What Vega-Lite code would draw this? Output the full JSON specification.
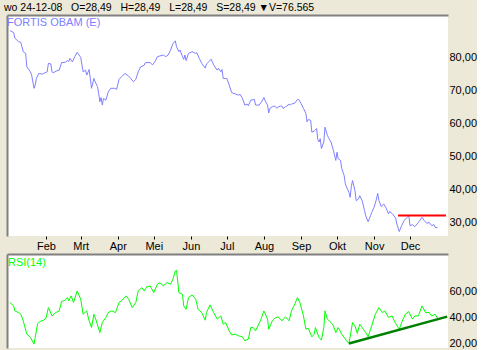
{
  "$schema": "https://vega.github.io/schema/vega-lite/v6.json",
  "background": "#ECE9D8",
  "padding": {"left": 4, "top": 2, "right": 0, "bottom": 2},
  "title": {"text": "wo 24-12-08\u00a0\u00a0 O=28,49\u00a0\u00a0 H=28,49\u00a0\u00a0 L=28,49\u00a0\u00a0 S=28,49 ▼V=76.565", "anchor": "start", "fontSize": 10.5, "fontWeight": "normal", "font": "Liberation Sans", "color": "black", "offset": 2, "dx": -3},
  "datasets": {
    "price": [
      {"date":"2008-01-02","close":88.3},{"date":"2008-01-05","close":87.7},{"date":"2008-01-06","close":86.0},{"date":"2008-01-09","close":85.0},{"date":"2008-01-11","close":84.7},{"date":"2008-01-13","close":81.9},{"date":"2008-01-15","close":81.4},{"date":"2008-01-16","close":77.3},{"date":"2008-01-19","close":75.8},{"date":"2008-01-20","close":74.8},{"date":"2008-01-22","close":70.8},{"date":"2008-01-23","close":71.8},{"date":"2008-01-24","close":73.8},{"date":"2008-01-26","close":75.3},{"date":"2008-01-29","close":75.1},{"date":"2008-01-31","close":75.5},{"date":"2008-02-02","close":75.8},{"date":"2008-02-03","close":78.4},{"date":"2008-02-05","close":78.2},{"date":"2008-02-06","close":75.8},{"date":"2008-02-07","close":75.5},{"date":"2008-02-10","close":76.1},{"date":"2008-02-12","close":76.3},{"date":"2008-02-14","close":78.6},{"date":"2008-02-17","close":78.7},{"date":"2008-02-19","close":79.2},{"date":"2008-02-20","close":78.9},{"date":"2008-02-21","close":79.9},{"date":"2008-02-23","close":78.8},{"date":"2008-02-25","close":80.4},{"date":"2008-02-27","close":81.7},{"date":"2008-03-01","close":80.2},{"date":"2008-03-02","close":77.9},{"date":"2008-03-03","close":75.8},{"date":"2008-03-05","close":76.3},{"date":"2008-03-06","close":74.8},{"date":"2008-03-08","close":76.5},{"date":"2008-03-09","close":73.8},{"date":"2008-03-10","close":70.8},{"date":"2008-03-12","close":73.8},{"date":"2008-03-13","close":72.8},{"date":"2008-03-15","close":71.3},{"date":"2008-03-16","close":69.2},{"date":"2008-03-17","close":66.7},{"date":"2008-03-18","close":68.0},{"date":"2008-03-19","close":65.7},{"date":"2008-03-20","close":67.7},{"date":"2008-03-22","close":67.2},{"date":"2008-03-24","close":69.7},{"date":"2008-03-26","close":70.8},{"date":"2008-03-29","close":70.8},{"date":"2008-03-31","close":70.5},{"date":"2008-04-02","close":73.5},{"date":"2008-04-04","close":74.3},{"date":"2008-04-07","close":75.3},{"date":"2008-04-10","close":74.5},{"date":"2008-04-11","close":74.1},{"date":"2008-04-14","close":72.8},{"date":"2008-04-16","close":73.5},{"date":"2008-04-18","close":75.8},{"date":"2008-04-20","close":77.3},{"date":"2008-04-23","close":77.8},{"date":"2008-04-24","close":78.6},{"date":"2008-04-28","close":78.6},{"date":"2008-04-30","close":77.9},{"date":"2008-05-02","close":78.9},{"date":"2008-05-04","close":80.4},{"date":"2008-05-06","close":80.6},{"date":"2008-05-09","close":80.9},{"date":"2008-05-11","close":80.4},{"date":"2008-05-13","close":80.9},{"date":"2008-05-15","close":82.4},{"date":"2008-05-17","close":84.3},{"date":"2008-05-19","close":85.2},{"date":"2008-05-20","close":83.4},{"date":"2008-05-22","close":81.9},{"date":"2008-05-23","close":82.4},{"date":"2008-05-25","close":80.4},{"date":"2008-05-26","close":79.6},{"date":"2008-05-27","close":80.9},{"date":"2008-05-28","close":79.2},{"date":"2008-05-30","close":81.4},{"date":"2008-06-02","close":81.9},{"date":"2008-06-05","close":81.4},{"date":"2008-06-06","close":81.6},{"date":"2008-06-08","close":79.9},{"date":"2008-06-10","close":78.4},{"date":"2008-06-13","close":76.9},{"date":"2008-06-14","close":78.2},{"date":"2008-06-16","close":78.9},{"date":"2008-06-18","close":79.6},{"date":"2008-06-20","close":77.9},{"date":"2008-06-23","close":76.3},{"date":"2008-06-24","close":76.9},{"date":"2008-06-26","close":75.8},{"date":"2008-06-27","close":76.5},{"date":"2008-06-28","close":73.8},{"date":"2008-07-01","close":73.8},{"date":"2008-07-03","close":71.8},{"date":"2008-07-05","close":69.5},{"date":"2008-07-08","close":69.1},{"date":"2008-07-11","close":68.7},{"date":"2008-07-12","close":69.0},{"date":"2008-07-14","close":67.8},{"date":"2008-07-16","close":65.7},{"date":"2008-07-18","close":66.0},{"date":"2008-07-19","close":65.5},{"date":"2008-07-21","close":67.2},{"date":"2008-07-24","close":67.4},{"date":"2008-07-25","close":65.7},{"date":"2008-07-28","close":65.7},{"date":"2008-07-30","close":66.7},{"date":"2008-08-01","close":68.0},{"date":"2008-08-02","close":67.0},{"date":"2008-08-04","close":65.7},{"date":"2008-08-05","close":63.3},{"date":"2008-08-06","close":64.7},{"date":"2008-08-08","close":65.2},{"date":"2008-08-10","close":65.4},{"date":"2008-08-12","close":64.7},{"date":"2008-08-13","close":65.2},{"date":"2008-08-15","close":65.4},{"date":"2008-08-16","close":65.4},{"date":"2008-08-17","close":64.7},{"date":"2008-08-19","close":65.2},{"date":"2008-08-20","close":65.4},{"date":"2008-08-22","close":66.0},{"date":"2008-08-23","close":65.7},{"date":"2008-08-24","close":66.0},{"date":"2008-08-26","close":66.2},{"date":"2008-08-27","close":66.4},{"date":"2008-08-29","close":67.4},{"date":"2008-08-30","close":67.4},{"date":"2008-09-01","close":66.2},{"date":"2008-09-03","close":64.7},{"date":"2008-09-05","close":63.2},{"date":"2008-09-06","close":60.6},{"date":"2008-09-07","close":61.3},{"date":"2008-09-09","close":61.1},{"date":"2008-09-10","close":57.5},{"date":"2008-09-12","close":57.8},{"date":"2008-09-14","close":58.6},{"date":"2008-09-15","close":55.2},{"date":"2008-09-16","close":54.5},{"date":"2008-09-17","close":55.5},{"date":"2008-09-18","close":52.5},{"date":"2008-09-20","close":54.5},{"date":"2008-09-21","close":59.0},{"date":"2008-09-23","close":56.5},{"date":"2008-09-24","close":55.8},{"date":"2008-09-26","close":54.5},{"date":"2008-09-28","close":52.0},{"date":"2008-09-30","close":48.9},{"date":"2008-10-01","close":51.4},{"date":"2008-10-02","close":49.4},{"date":"2008-10-04","close":48.9},{"date":"2008-10-05","close":46.4},{"date":"2008-10-07","close":44.3},{"date":"2008-10-08","close":41.8},{"date":"2008-10-09","close":40.8},{"date":"2008-10-11","close":39.2},{"date":"2008-10-12","close":37.7},{"date":"2008-10-13","close":41.0},{"date":"2008-10-14","close":42.8},{"date":"2008-10-16","close":39.8},{"date":"2008-10-17","close":36.7},{"date":"2008-10-19","close":37.2},{"date":"2008-10-20","close":38.2},{"date":"2008-10-22","close":36.7},{"date":"2008-10-24","close":33.7},{"date":"2008-10-25","close":32.1},{"date":"2008-10-27","close":30.3},{"date":"2008-10-29","close":32.1},{"date":"2008-10-30","close":33.1},{"date":"2008-11-01","close":34.7},{"date":"2008-11-03","close":37.2},{"date":"2008-11-04","close":38.9},{"date":"2008-11-05","close":36.7},{"date":"2008-11-07","close":34.9},{"date":"2008-11-09","close":35.7},{"date":"2008-11-11","close":34.5},{"date":"2008-11-13","close":32.7},{"date":"2008-11-14","close":33.4},{"date":"2008-11-16","close":32.8},{"date":"2008-11-19","close":31.4},{"date":"2008-11-20","close":29.6},{"date":"2008-11-22","close":27.3},{"date":"2008-11-24","close":29.1},{"date":"2008-11-26","close":30.6},{"date":"2008-11-28","close":31.4},{"date":"2008-11-30","close":32.1},{"date":"2008-12-01","close":29.1},{"date":"2008-12-03","close":29.4},{"date":"2008-12-05","close":28.8},{"date":"2008-12-08","close":30.1},{"date":"2008-12-11","close":31.6},{"date":"2008-12-13","close":30.6},{"date":"2008-12-15","close":29.8},{"date":"2008-12-17","close":30.1},{"date":"2008-12-19","close":29.1},{"date":"2008-12-21","close":29.4},{"date":"2008-12-22","close":28.6},{"date":"2008-12-24","close":28.49}
    ],
    "rsi": [
      {"date":"2008-01-02","rsi":51.8},{"date":"2008-01-05","rsi":49.2},{"date":"2008-01-06","rsi":45.3},{"date":"2008-01-09","rsi":44.0},{"date":"2008-01-11","rsi":42.7},{"date":"2008-01-13","rsi":37.6},{"date":"2008-01-16","rsi":27.2},{"date":"2008-01-19","rsi":24.7},{"date":"2008-01-22","rsi":19.5},{"date":"2008-01-23","rsi":24.7},{"date":"2008-01-25","rsi":35.5},{"date":"2008-01-27","rsi":37.1},{"date":"2008-01-30","rsi":38.1},{"date":"2008-02-01","rsi":39.6},{"date":"2008-02-03","rsi":47.9},{"date":"2008-02-06","rsi":41.4},{"date":"2008-02-09","rsi":44.0},{"date":"2008-02-12","rsi":45.3},{"date":"2008-02-14","rsi":52.6},{"date":"2008-02-17","rsi":53.6},{"date":"2008-02-19","rsi":55.7},{"date":"2008-02-20","rsi":53.1},{"date":"2008-02-22","rsi":57.0},{"date":"2008-02-24","rsi":51.8},{"date":"2008-02-27","rsi":60.8},{"date":"2008-03-01","rsi":54.4},{"date":"2008-03-03","rsi":42.7},{"date":"2008-03-06","rsi":45.3},{"date":"2008-03-08","rsi":37.6},{"date":"2008-03-10","rsi":32.4},{"date":"2008-03-12","rsi":42.7},{"date":"2008-03-14","rsi":37.6},{"date":"2008-03-17","rsi":28.5},{"date":"2008-03-19","rsi":36.3},{"date":"2008-03-22","rsi":40.2},{"date":"2008-03-24","rsi":44.0},{"date":"2008-03-27","rsi":45.3},{"date":"2008-03-30","rsi":44.0},{"date":"2008-04-02","rsi":51.8},{"date":"2008-04-04","rsi":53.1},{"date":"2008-04-08","rsi":57.0},{"date":"2008-04-10","rsi":54.4},{"date":"2008-04-13","rsi":47.9},{"date":"2008-04-16","rsi":51.8},{"date":"2008-04-18","rsi":60.8},{"date":"2008-04-21","rsi":63.4},{"date":"2008-04-23","rsi":60.8},{"date":"2008-04-25","rsi":63.9},{"date":"2008-04-28","rsi":64.7},{"date":"2008-05-01","rsi":59.5},{"date":"2008-05-04","rsi":66.0},{"date":"2008-05-06","rsi":67.3},{"date":"2008-05-09","rsi":64.7},{"date":"2008-05-12","rsi":67.3},{"date":"2008-05-15","rsi":66.0},{"date":"2008-05-17","rsi":69.9},{"date":"2008-05-19","rsi":76.3},{"date":"2008-05-20","rsi":76.8},{"date":"2008-05-22","rsi":59.5},{"date":"2008-05-25","rsi":58.2},{"date":"2008-05-26","rsi":49.2},{"date":"2008-05-28","rsi":46.6},{"date":"2008-05-30","rsi":55.7},{"date":"2008-06-02","rsi":57.7},{"date":"2008-06-05","rsi":54.4},{"date":"2008-06-07","rsi":46.6},{"date":"2008-06-10","rsi":44.0},{"date":"2008-06-13","rsi":38.1},{"date":"2008-06-14","rsi":44.0},{"date":"2008-06-17","rsi":50.0},{"date":"2008-06-20","rsi":44.0},{"date":"2008-06-23","rsi":38.9},{"date":"2008-06-26","rsi":41.4},{"date":"2008-06-28","rsi":35.0},{"date":"2008-06-30","rsi":36.3},{"date":"2008-07-03","rsi":29.8},{"date":"2008-07-05","rsi":26.7},{"date":"2008-07-08","rsi":27.2},{"date":"2008-07-11","rsi":25.9},{"date":"2008-07-14","rsi":25.2},{"date":"2008-07-16","rsi":22.1},{"date":"2008-07-19","rsi":23.4},{"date":"2008-07-21","rsi":32.4},{"date":"2008-07-23","rsi":32.4},{"date":"2008-07-25","rsi":29.8},{"date":"2008-07-29","rsi":37.6},{"date":"2008-08-01","rsi":45.3},{"date":"2008-08-04","rsi":38.9},{"date":"2008-08-05","rsi":31.1},{"date":"2008-08-08","rsi":37.6},{"date":"2008-08-10","rsi":39.6},{"date":"2008-08-13","rsi":40.7},{"date":"2008-08-16","rsi":37.6},{"date":"2008-08-19","rsi":40.7},{"date":"2008-08-22","rsi":37.6},{"date":"2008-08-24","rsi":45.3},{"date":"2008-08-27","rsi":51.0},{"date":"2008-08-29","rsi":55.7},{"date":"2008-08-31","rsi":51.8},{"date":"2008-09-03","rsi":41.4},{"date":"2008-09-05","rsi":31.1},{"date":"2008-09-07","rsi":31.9},{"date":"2008-09-10","rsi":25.2},{"date":"2008-09-12","rsi":27.2},{"date":"2008-09-13","rsi":32.4},{"date":"2008-09-16","rsi":24.7},{"date":"2008-09-18","rsi":22.6},{"date":"2008-09-20","rsi":32.4},{"date":"2008-09-21","rsi":45.3},{"date":"2008-09-23","rsi":38.9},{"date":"2008-09-26","rsi":36.3},{"date":"2008-09-28","rsi":33.7},{"date":"2008-09-30","rsi":28.5},{"date":"2008-10-02","rsi":32.4},{"date":"2008-10-05","rsi":27.2},{"date":"2008-10-09","rsi":22.1},{"date":"2008-10-11","rsi":20.0},{"date":"2008-10-14","rsi":36.3},{"date":"2008-10-16","rsi":33.7},{"date":"2008-10-18","rsi":27.8},{"date":"2008-10-20","rsi":35.0},{"date":"2008-10-22","rsi":32.4},{"date":"2008-10-25","rsi":28.5},{"date":"2008-10-27","rsi":25.2},{"date":"2008-10-30","rsi":33.7},{"date":"2008-11-02","rsi":42.7},{"date":"2008-11-05","rsi":47.9},{"date":"2008-11-08","rsi":44.0},{"date":"2008-11-10","rsi":45.3},{"date":"2008-11-13","rsi":40.2},{"date":"2008-11-16","rsi":41.4},{"date":"2008-11-19","rsi":35.5},{"date":"2008-11-22","rsi":31.1},{"date":"2008-11-24","rsi":36.3},{"date":"2008-11-27","rsi":42.7},{"date":"2008-11-30","rsi":44.8},{"date":"2008-12-03","rsi":38.9},{"date":"2008-12-05","rsi":41.4},{"date":"2008-12-08","rsi":41.4},{"date":"2008-12-11","rsi":49.2},{"date":"2008-12-14","rsi":44.0},{"date":"2008-12-17","rsi":44.0},{"date":"2008-12-19","rsi":41.4},{"date":"2008-12-22","rsi":42.7},{"date":"2008-12-24","rsi":39.6}
    ],
    "resistance": [{"start":"2008-11-21","end":"2008-12-31","level":32.2}],
    "trend": [{"start":"2008-10-11","end":"2009-01-01","from":20.0,"to":40.9}]
  },
  "resolve": {"scale": {"color": "independent"}, "legend": {"color": "independent"}},
  "vconcat": [
    {
      "width": 441,
      "height": 221,
      "resolve": {"axis": {"x": "independent", "y": "independent"}},
      "layer": [
        {
          "data": {"name": "price"},
          "mark": {"type": "line", "strokeWidth": 1},
          "encoding": {
            "x": {"field": "date", "type": "temporal",
              "scale": {"type": "utc", "domain": [{"year": 2007, "month": 12, "date": 30, "hours": 10, "minutes": 20, "utc": true}, {"year": 2009, "month": 1, "date": 1, "hours": 17, "utc": true}]},
              "axis": {"orient": "bottom", "title": null, "domain": false, "grid": false, "ticks": true, "tickSize": 3, "tickColor": "black", "labelPadding": 1, "labelFlush": false, "labelOverlap": false,
                "values": [{"year":2008,"month":2,"date":1,"utc":true},{"year":2008,"month":3,"date":1,"utc":true},{"year":2008,"month":4,"date":1,"utc":true},{"year":2008,"month":5,"date":1,"utc":true},{"year":2008,"month":6,"date":1,"utc":true},{"year":2008,"month":7,"date":1,"utc":true},{"year":2008,"month":8,"date":1,"utc":true},{"year":2008,"month":9,"date":1,"utc":true},{"year":2008,"month":10,"date":1,"utc":true},{"year":2008,"month":11,"date":1,"utc":true},{"year":2008,"month":12,"date":1,"utc":true}],
                "labelExpr": "['Jan','Feb','Mrt','Apr','Mei','Jun','Jul','Aug','Sep','Okt','Nov','Dec'][utcmonth(datum.value)]"}},
            "y": {"field": "close", "type": "quantitative",
              "scale": {"domain": [25.96, 93.05], "nice": false, "zero": false},
              "axis": {"orient": "right", "title": null, "domain": false, "grid": false, "ticks": false, "tickSize": 0, "labelPadding": 1, "values": [30, 40, 50, 60, 70, 80], "labelExpr": "replace(format(datum.value, '.2f'), '.', ',')"}},
            "color": {"datum": "FORTIS OBAM (E)", "type": "nominal", "scale": {"range": ["#8080FF"]},
              "legend": {"orient": "top-left", "offset": 2, "title": null, "padding": 0, "symbolSize": 0.01, "symbolOpacity": 0, "symbolStrokeWidth": 0, "labelOffset": -13, "labelColor": "#8080FF", "labelFontSize": 11, "labelFont": "Liberation Sans"}}
          }
        },
        {
          "data": {"name": "resistance"},
          "mark": {"type": "rule", "color": "#FF0000", "strokeWidth": 2},
          "encoding": {
            "x": {"field": "start", "type": "temporal", "axis": null},
            "x2": {"field": "end"},
            "y": {"field": "level", "type": "quantitative", "axis": null}
          }
        },
        {
          "data": {"name": "price"},
          "mark": {"type": "point", "opacity": 0},
          "encoding": {
            "x": {"field": "date", "type": "temporal", "axis": {"orient": "top", "title": null, "labels": false, "ticks": false, "grid": false, "domain": true, "domainColor": "#808080", "domainWidth": 2}},
            "y": {"field": "close", "type": "quantitative", "axis": {"orient": "left", "title": null, "labels": false, "ticks": false, "grid": false, "domain": true, "domainColor": "#808080", "domainWidth": 2}}
          }
        }
      ]
    },
    {
      "width": 441,
      "height": 94,
      "resolve": {"axis": {"x": "independent", "y": "independent"}},
      "layer": [
        {
          "data": {"name": "rsi"},
          "mark": {"type": "line", "strokeWidth": 1},
          "encoding": {
            "x": {"field": "date", "type": "temporal",
              "scale": {"type": "utc", "domain": [{"year": 2007, "month": 12, "date": 30, "hours": 10, "minutes": 20, "utc": true}, {"year": 2009, "month": 1, "date": 1, "hours": 17, "utc": true}]},
              "axis": null},
            "y": {"field": "rsi", "type": "quantitative",
              "scale": {"domain": [16.5, 89.5], "nice": false, "zero": false},
              "axis": {"orient": "right", "title": null, "domain": false, "grid": false, "ticks": false, "tickSize": 0, "labelPadding": 1, "values": [20, 40, 60], "labelExpr": "replace(format(datum.value, '.2f'), '.', ',')"}},
            "color": {"datum": "RSI(14)", "type": "nominal", "scale": {"range": ["#00FF00"]},
              "legend": {"orient": "top-left", "offset": 3, "title": null, "padding": 0, "symbolSize": 0.01, "symbolOpacity": 0, "symbolStrokeWidth": 0, "labelOffset": -13, "labelColor": "#00FF00", "labelFontSize": 11, "labelFont": "Liberation Sans"}}
          }
        },
        {
          "data": {"name": "trend"},
          "mark": {"type": "rule", "color": "#008000", "strokeWidth": 2.5},
          "encoding": {
            "x": {"field": "start", "type": "temporal", "axis": null},
            "x2": {"field": "end"},
            "y": {"field": "from", "type": "quantitative", "axis": null},
            "y2": {"field": "to"}
          }
        },
        {
          "data": {"name": "rsi"},
          "mark": {"type": "point", "opacity": 0},
          "encoding": {
            "x": {"field": "date", "type": "temporal", "axis": {"orient": "top", "title": null, "labels": false, "ticks": false, "grid": false, "domain": true, "domainColor": "#808080", "domainWidth": 2}},
            "y": {"field": "rsi", "type": "quantitative", "axis": {"orient": "left", "title": null, "labels": false, "ticks": false, "grid": false, "domain": true, "domainColor": "#808080", "domainWidth": 2}}
          }
        }
      ]
    }
  ],
  "spacing": 3,
  "config": {
    "font": "Liberation Sans",
    "view": {"stroke": null, "fill": "white"},
    "axis": {"labelFont": "Liberation Sans", "labelFontSize": 11, "labelColor": "black", "grid": false}
  }
}
